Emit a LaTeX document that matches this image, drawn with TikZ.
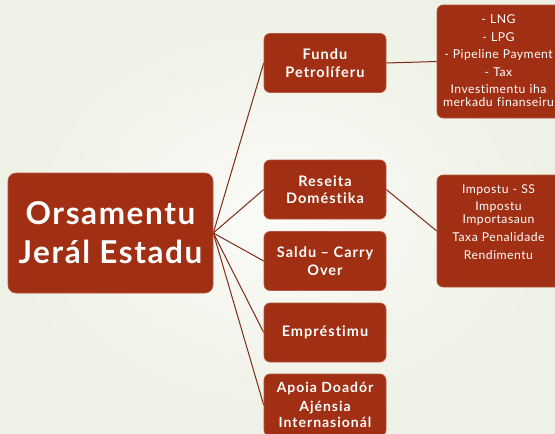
\documentclass[tikz,border=0pt]{standalone}
\usepackage{fontspec}
\usetikzlibrary{backgrounds}
\setmainfont[Ligatures=NoCommon]{Lato}
\newfontfamily\bigfont[Ligatures=NoCommon,LetterSpace=5]{Lato}
\newfontfamily\midfont[Ligatures=NoCommon,LetterSpace=7]{Lato}
\newfontfamily\smallfont[Ligatures=NoCommon,LetterSpace=4]{Lato}
\definecolor{boxred}{HTML}{A02F13}
\definecolor{linered}{HTML}{7E2A18}
\definecolor{bgA}{HTML}{FBFBF8}
\definecolor{bgB}{HTML}{EEF1E5}
\tikzset{
  rbox/.style={draw=boxred!80!white, line width=0.6pt, fill=boxred, rounded corners=6pt, text=white, align=center, inner sep=2pt},
  child/.style={rbox, minimum width=122pt, minimum height=59pt, font=\midfont\fontsize{14.5}{17.5}\selectfont\bfseries},
  leaf/.style={rbox, minimum width=125pt},
  leaftext/.style={text=white, align=center, text width=124pt, inner sep=0pt, font=\smallfont\fontsize{12.2}{13}\selectfont},
  conn/.style={draw=linered, line width=1pt}
}
\begin{document}
\begin{tikzpicture}[x=1pt,y=-1pt]
\useasboundingbox (0,0) rectangle (555,434);
\node[rbox, rounded corners=8pt, minimum width=205pt, minimum height=120pt, font=\bigfont\fontsize{31.5}{39}\selectfont\bfseries] (main) at (110.5,233) {Orsamentu\\Jerál Estadu};
\node[child] (fundu) at (325,63) {Fundu\\Petrolíferu};
\node[child] (reseita) at (325,189.5) {Reseita\\Doméstika};
\node[child] (saldu) at (325,261) {Saldu – Carry\\Over};
\node[child] (empr) at (325,332.5) {Empréstimu};
\node[child, minimum height=62pt, font=\midfont\fontsize{14}{16}\selectfont\bfseries] (apoia) at (325,405) {Apoia Doadór\\[3pt]Ajénsia\\Internasionál};
\node[leaf, minimum height=113pt] (r1) at (499.5,61.5) {};
\node[leaftext] (r1t) at (498.5,61) {- LNG\\[4.5pt]- LPG\\[4.5pt]- Pipeline Payment\\[4.5pt]- Tax\\[4.5pt]Investimentu iha\\merkadu finanseiru};
\node[leaf, minimum height=112pt] (r2) at (499.5,231) {};
\node[leaftext] (r2t) at (498.5,222) {Impostu - SS\\[4.5pt]Impostu\\Importasaun\\[5pt]Taxa Penalidade\\[5pt]Rendimentu};
\begin{scope}[on background layer]
\shade[inner color=bgA, outer color=bgB] (0,0) rectangle (555,434);
\foreach \c in {fundu,reseita,saldu,empr,apoia}{
  \draw[conn] (main.east) -- (\c.west);
}
\draw[conn] (fundu.east) -- (r1.west);
\draw[conn] (reseita.east) -- (r2.west);
\end{scope}
\end{tikzpicture}
\end{document}
